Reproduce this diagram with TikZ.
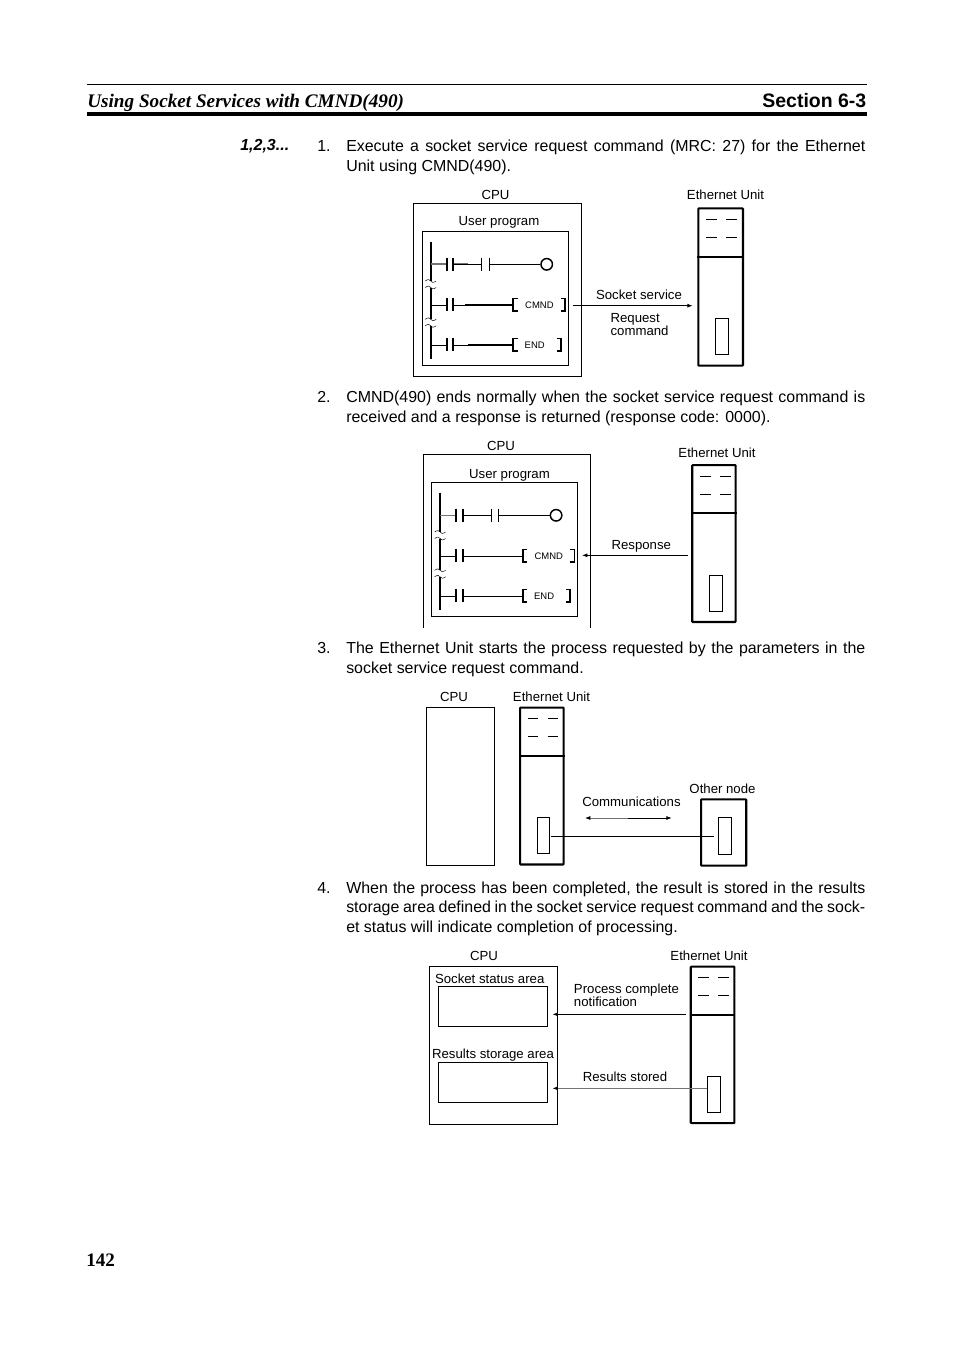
\documentclass[tikz,border=0pt]{standalone}
\usepackage{fontspec}
\usetikzlibrary{arrows.meta}
\setmainfont{Liberation Sans}
\newfontfamily\hdserif{Liberation Serif}
\newcommand{\jl}[3]{\node[body] (#1) at (346,#2) {\makebox[389.3pt][s]{#3}};}
\newcommand{\ethunit}[5]{% name x y w h
  \begin{scope}[shift={(#2,#3)}]
    \node[thick box,inner sep=0pt,minimum width=(#4-2.1)*0.75pt,minimum height=(#5-2.1)*0.75pt,anchor=north west,rounded corners=0.5pt] (#1) at (0,0) {};
    \draw[line width=1.5pt] (0,49.4) -- (#4,49.4);
    \draw[line width=0.6pt] (8.7,12)--(19.4,12) (28.7,12)--(39.4,12) (8.7,30)--(19.4,30) (28.7,30)--(39.4,30);
    \node[thin box,inner sep=0pt,minimum width=12.8*0.75pt,minimum height=36.2*0.75pt,anchor=north west] (#1port) at (17.5,110.5) {};
  \end{scope}}
\newcommand{\tildes}[2]{% x y
  \draw[line width=0.35pt] (#1-5.5,#2) .. controls (#1-2.5,#2-2.2) and (#1-1,#2-1.5) .. (#1,#2) .. controls (#1+1,#2+1.5) and (#1+2.5,#2+2.2) .. (#1+5.5,#2)
    (#1-5.5,#2+6.5) .. controls (#1-2.5,#2+4.3) and (#1-1,#2+5) .. (#1,#2+6.5) .. controls (#1+1,#2+8) and (#1+2.5,#2+8.7) .. (#1+5.5,#2+6.5);}
\newcommand{\ladder}[3]{% prefix dx dy
  \begin{scope}[shift={(#2,#3)}]
    \draw[rail] (430.7,241.7)--(430.7,281) (430.7,287.7)--(430.7,319.3) (430.7,325.8)--(430.7,359.3);
    \tildes{430.7}{281}
    \tildes{430.7}{319.3}
    % rung 1
    \draw[wire] (430.7,264.3)--(446.7,264.3);
    \draw[line width=1.2pt,black!55] (430.7,264.3)--(446.7,264.3) (453.3,264.3)--(467.5,264.3);
    \draw[barline] (446.7,257.7)--(446.7,270.7) (453.3,257.7)--(453.3,270.7);
    \draw[wire] (453.3,264.3)--(481.7,264.3);
    \draw[wire] (481.7,257.7)--(481.7,270.7) (489.3,257.7)--(489.3,270.7);
    \node[draw=black,line width=1.1pt,circle,inner sep=0pt,minimum size=11.5*0.75pt] (#1coil) at (546.7,264.3) {};
    \draw[wire] (489.3,264.3)--(#1coil.west);
    % rung 2
    \draw[wire] (430.7,305)--(446.7,305);
    \draw[barline] (446.7,298.4)--(446.7,311.4) (453.3,298.4)--(453.3,311.4);
    \draw[wire] (453.3,305)--(513.3,305);
    \draw[barline] (517.5,298.6)--(513.3,298.6)--(513.3,311)--(517.5,311);
    \node[small] (#1cmnd) at (539.4,304.8) {CMND};
    \draw[barline] (560.8,298.6)--(565,298.6)--(565,311)--(560.8,311);
    % rung 3
    \draw[wire] (430.7,345)--(446.7,345);
    \draw[barline] (446.7,338.4)--(446.7,351.4) (453.3,338.4)--(453.3,351.4);
    \draw[wire] (453.3,345)--(513.3,345);
    \draw[barline] (517.5,338.6)--(513.3,338.6)--(513.3,351)--(517.5,351);
    \node[small] (#1end) at (534.7,344.8) {END};
    \draw[barline] (556.5,338.6)--(560.7,338.6)--(560.7,351)--(556.5,351);
  \end{scope}}
\begin{document}
\begin{tikzpicture}[x=0.75pt,y=-0.75pt,
  lbl/.style={inner sep=0pt,font=\fontsize{9.9pt}{10pt}\selectfont},
  body/.style={inner sep=0pt,anchor=base west,font=\fontsize{11.96pt}{14pt}\selectfont},
  small/.style={inner sep=0pt,font=\fontsize{7.1pt}{8pt}\selectfont},
  thin box/.style={draw=black,line width=0.6pt},
  thick box/.style={draw=black,line width=1.6pt},
  rail/.style={draw=black,line width=1.5pt},
  wire/.style={draw=black,line width=0.7pt},
  barline/.style={draw=black,line width=1.3pt},
  arrowline/.style={draw=black,line width=0.6pt,-{Latex[length=4pt,width=3pt]}},
  grayline/.style={draw=black!55,line width=0.6pt,-{Latex[length=4pt,width=3pt,black]}}
]
\useasboundingbox (0,0) rectangle (954,1351);
\fill[white] (0,0) rectangle (954,1351);
% header
\coordinate (hl) at (87,84.5); \coordinate (hr) at (867,84.5);
\draw[line width=0.5pt] (hl) -- (hr);
\coordinate (tl) at (87,114.3); \coordinate (tr) at (867,114.3);
\draw[line width=3pt] (tl) -- (tr);
\node[anchor=base west,inner sep=0pt,font=\hdserif\bfseries\itshape\fontsize{14.4pt}{16pt}\selectfont] (htitle) at (87,107.2) {Using Socket Services with CMND(490)};
\node[anchor=base east,inner sep=0pt,font=\bfseries\fontsize{14.6pt}{16pt}\selectfont] (hsec) at (866.5,107.2) {Section 6-3};
\node[anchor=base west,inner sep=0pt,font=\bfseries\itshape\fontsize{12pt}{12pt}\selectfont] (seq) at (240,151) {1,2,3...};
\node[anchor=base west,inner sep=0pt,font=\hdserif\bfseries\fontsize{14.3pt}{16pt}\selectfont] (pg) at (86,1266.2) {142};
% body text
\node[body] (n1) at (317,151.3) {1.};
\jl{t1a}{151.3}{Execute a socket service request command (MRC: 27) for the Ethernet}
\node[body] (t1b) at (346,171.3) {Unit using CMND(490).};
\node[body] (n2) at (317,402.3) {2.};
\jl{t2a}{402.3}{CMND(490) ends normally when the socket service request command is}
\node[body] (t2b) at (346,422.3) {received and a response is returned (response code: 0000).};
\node[body] (n3) at (317,653.3) {3.};
\jl{t3a}{653.3}{The Ethernet Unit starts the process requested by the parameters in the}
\node[body] (t3b) at (346,673.3) {socket service request command.};
\node[body] (n4) at (317,893.3) {4.};
\jl{t4a}{893.3}{When the process has been completed, the result is stored in the results}
\jl{t4b}{912.8}{storage area defined in the socket service request command and the sock-}
\node[body] (t4c) at (346,932.3) {et status will indicate completion of processing.};
% diagram 1
\node[lbl] (c1) at (495.5,194.7) {CPU};
\node[lbl] (e1) at (725.5,194.7) {Ethernet Unit};
\node[thin box,inner sep=0pt,minimum width=167.6*0.75pt,minimum height=173.2*0.75pt,anchor=north west] (cpu1) at (413.3,203.3) {};
\node[lbl] (u1) at (499,222.5) {User program};
\node[thin box,inner sep=0pt,minimum width=145.2*0.75pt,minimum height=134.5*0.75pt,anchor=north west] (prog1) at (422.3,230.7) {};
\ladder{a}{0}{0}
\draw[line width=1.2pt] (465,305)--(513.3,305) (468,345)--(513.3,345);
\ethunit{eth1}{697.3}{207.3}{46.7}{159.4}
\coordinate (s1) at (573.3,305.7);
\coordinate (s1e) at (692.7,305.7);
\draw[arrowline] (s1) -- (s1e);
\node[lbl] (sock) at (639,294.7) {Socket service};
\node[lbl,align=left,anchor=north west,font=\fontsize{9.9pt}{9.5pt}\selectfont] (req) at (610.3,313.3) {Request\\command};
% diagram 2
\node[lbl] (c2) at (501,445.7) {CPU};
\node[lbl] (e2) at (717,452.7) {Ethernet Unit};
\coordinate (b2a) at (423.3,627.7); \coordinate (b2b) at (423.3,454.3);
\coordinate (b2c) at (590.7,454.3); \coordinate (b2d) at (590.7,627.7);
\draw[thin box] (b2a)--(b2b)--(b2c)--(b2d);
\node[lbl] (u2) at (509.5,475.5) {User program};
\node[thin box,inner sep=0pt,minimum width=145.2*0.75pt,minimum height=134.2*0.75pt,anchor=north west] (prog2) at (431.3,481.7) {};
\ladder{b}{9.4}{251}
\ethunit{eth2}{691.2}{464}{45.5}{159}
\coordinate (r2) at (688.3,555.3); \coordinate (r2e) at (582,555.3);
\draw[arrowline] (r2) -- (r2e);
\node[lbl] (resp) at (641.3,546.5) {Response};
% diagram 3
\node[lbl] (c3) at (454,696.7) {CPU};
\node[lbl] (e3) at (551.5,696.7) {Ethernet Unit};
\node[thin box,inner sep=0pt,minimum width=67.5*0.75pt,minimum height=158.2*0.75pt,anchor=north west] (cpu3) at (426,706.7) {};
\ethunit{eth3}{519}{706.5}{45.7}{159}
\node[thick box,inner sep=0pt,minimum width=45.2*0.75pt,minimum height=66.3*0.75pt,anchor=north west,rounded corners=0.5pt] (other) at (700,798.3) {};
\node[thin box,inner sep=0pt,minimum width=13.2*0.75pt,minimum height=36.2*0.75pt,anchor=north west] (oport) at (717.5,817.3) {};
\node[lbl] (onl) at (722.5,788.7) {Other node};
\node[lbl] (com) at (631.5,801.7) {Communications};
\coordinate (p1) at (551,836.3); \coordinate (p2) at (714,836.3);
\draw[wire] (p1) -- (p2);
\coordinate (ca) at (628.3,818); \coordinate (cl) at (585,818); \coordinate (cr) at (671.7,818);
\draw[grayline] (ca) -- (cl);
\draw[arrowline] (ca) -- (cr);
% diagram 4
\node[lbl] (c4) at (484,955.7) {CPU};
\node[lbl] (e4) at (709,955.7) {Ethernet Unit};
\node[thin box,inner sep=0pt,minimum width=127.2*0.75pt,minimum height=157.8*0.75pt,anchor=north west] (cpu4) at (429.3,965.7) {};
\node[lbl] (ssa) at (489.7,978.7) {Socket status area};
\node[thin box,inner sep=0pt,minimum width=108.6*0.75pt,minimum height=39.2*0.75pt,anchor=north west] (ssr) at (438.3,986.3) {};
\node[lbl] (rsa) at (493,1054.7) {Results storage area};
\node[thin box,inner sep=0pt,minimum width=108.6*0.75pt,minimum height=39.2*0.75pt,anchor=north west] (rsr) at (438.3,1062.3) {};
\ethunit{eth4}{689.7}{965.5}{45.7}{158.6}
\node[lbl,align=left,anchor=north west,font=\fontsize{9.9pt}{9.5pt}\selectfont] (pcn) at (573.7,984) {Process complete\\notification};
\coordinate (a4) at (685.7,1014.3); \coordinate (a4e) at (552.5,1014.3);
\draw[arrowline] (a4) -- (a4e);
\node[lbl] (rs) at (625,1076.7) {Results stored};
\coordinate (a5e) at (552.5,1088.3);
\draw[grayline] (eth4port.west |- a5e) -- (a5e);
\end{tikzpicture}
\end{document}
